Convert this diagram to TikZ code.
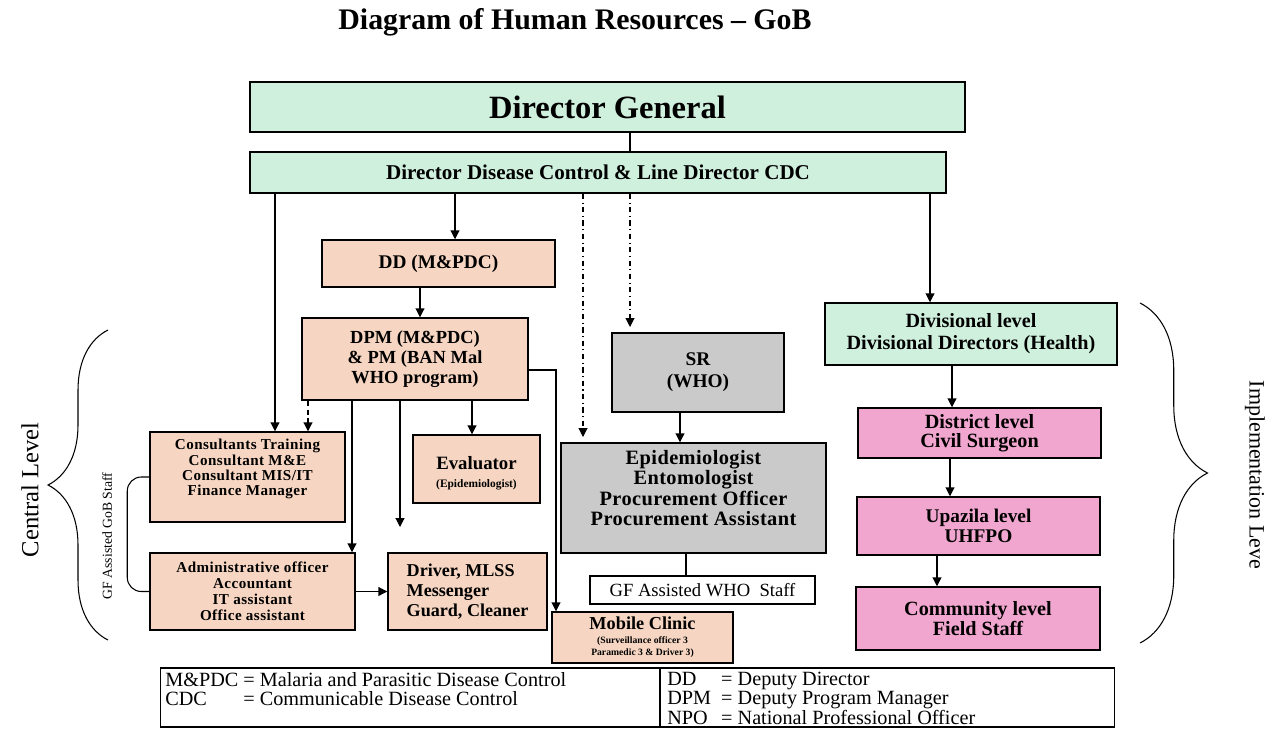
\documentclass[tikz,border=0pt]{standalone}
\usepackage{fontspec}
\setmainfont{Liberation Serif}
\usetikzlibrary{arrows.meta,decorations.pathreplacing}
\definecolor{hrgreen}{RGB}{208,240,222}
\definecolor{hrpeach}{RGB}{246,214,194}
\definecolor{hrgrey}{RGB}{202,202,202}
\definecolor{hrpink}{RGB}{240,166,206}
\newcommand{\fsz}[1]{\fontsize{#1}{#1}\selectfont}
\newcommand{\spaced}{\addfontfeature{LetterSpace=3}}
\begin{document}
\begin{tikzpicture}[x=0.02cm,y=-0.02cm]
    \tikzstyle{box}=[draw=black, line width=0.85pt, align=center, inner sep=1pt, font=\bfseries]
    \tikzstyle{greenbox}=[box, fill=hrgreen]
    \tikzstyle{peachbox}=[box, fill=hrpeach]
    \tikzstyle{greybox}=[box, fill=hrgrey]
    \tikzstyle{pinkbox}=[box, fill=hrpink]
    \tikzstyle{arr}=[-{Triangle[length=5pt,width=5pt]}, line width=0.6pt]
    \tikzstyle{dasharr}=[arr, dash dot, shorten >=3pt]
    \tikzstyle{brc}=[decorate, line width=0.6pt]
    \fill[white] (0,0) rectangle (1280,730);
    \useasboundingbox (0,0) rectangle (1280,730);
    \node (title) at (575,22) {\bfseries\fsz{17}Diagram of Human Resources -- GoB};
    % top level
    \node[greenbox, minimum width=14.3cm, minimum height=1.0cm, font=\bfseries\fsz{18.5}] (dg) at (607.5,107) {Director General};
    \node[greenbox, minimum width=13.92cm, minimum height=0.82cm, font=\bfseries\fsz{12}] (ddc) at (598,172.5) {Director Disease Control \& Line Director CDC};
    % central level
    \node[peachbox, minimum width=4.66cm, minimum height=0.94cm, font=\bfseries\fsz{11}] (dd) at (438.5,263.5) {DD (M\&PDC)};
    \node[peachbox, minimum width=4.52cm, minimum height=1.64cm, font=\bfseries\fontsize{10.5}{11.5}\selectfont] (dpm) at (415,359) {DPM (M\&PDC)\\\& PM (BAN Mal\\WHO program)};
    \node[peachbox, minimum width=3.9cm, minimum height=1.8cm, font=\bfseries\fontsize{8.6}{8.8}\selectfont\spaced] (cons) at (247.5,477) {Consultants Training\\Consultant M\&E\\Consultant MIS/IT\\Finance Manager\\[2pt]\mbox{}};
    \node[peachbox, minimum width=2.54cm, minimum height=1.36cm, font=\bfseries\fontsize{10.7}{10.5}\selectfont] (eval) at (476.5,469) {\mbox{}\\[2pt]Evaluator\\{\fsz{6.5}(Epidemiologist)}};
    \node[peachbox, minimum width=4.1cm, minimum height=1.54cm, font=\bfseries\fontsize{8.6}{9.1}\selectfont\spaced] (admin) at (252.5,591.5) {Administrative officer\\Accountant\\IT assistant\\Office assistant};
    \node[peachbox, minimum width=3.18cm, minimum height=1.54cm, font=\bfseries\fontsize{10.3}{11.5}\selectfont, align=left] (driver) at (467.5,591.5) {Driver, MLSS\\Messenger\\Guard, Cleaner};
    \node[peachbox, minimum width=3.62cm, minimum height=1.02cm, font=\bfseries\fontsize{10.4}{7}\selectfont] (mobile) at (642.5,637.5) {Mobile Clinic\\[1pt]{\fsz{5.5}(Surveillance officer 3}\\{\fsz{5.5}Paramedic 3 \& Driver 3)}};
    % WHO
    \node[greybox, minimum width=3.44cm, minimum height=1.58cm, font=\bfseries\fontsize{11}{12.5}\selectfont] (sr) at (698,372.5) {SR\\(WHO)};
    \node[greybox, minimum width=5.3cm, minimum height=2.2cm, font=\bfseries\fontsize{11.6}{11.6}\selectfont\addfontfeature{LetterSpace=2}] (epi) at (693.5,498) {Epidemiologist\\Entomologist\\Procurement Officer\\Procurement Assistant\\\mbox{}};
    \node[box, fill=white, minimum width=4.5cm, minimum height=0.56cm, font=\fsz{10.6}] (gfwho) at (702.5,590) {GF Assisted WHO\ \ Staff};
    % implementation level
    \node[greenbox, minimum width=5.84cm, minimum height=1.24cm, font=\bfseries\fontsize{11.5}{12.5}\selectfont] (div) at (971,334) {Divisional level\\Divisional Directors (Health)};
    \node[pinkbox, minimum width=4.86cm, minimum height=1.0cm, font=\bfseries\fontsize{11.5}{11}\selectfont] (dist) at (979.5,433) {District level\\Civil Surgeon};
    \node[pinkbox, minimum width=4.86cm, minimum height=1.16cm, font=\bfseries\fontsize{11}{11}\selectfont] (upz) at (978.5,526) {Upazila level\\UHFPO};
    \node[pinkbox, minimum width=4.88cm, minimum height=1.26cm, font=\bfseries\fontsize{11.5}{11}\selectfont] (comm) at (978,618.5) {Community level\\Field Staff};
    % column positions of the connectors
    \coordinate (c1) at (275,0);
    \coordinate (c2) at (455,0);
    \coordinate (c3) at (583,0);
    \coordinate (c4) at (630,0);
    \coordinate (c5) at (930,0);
    \coordinate (p1) at (420,0);
    \coordinate (p2) at (308,0);
    \coordinate (p3) at (352,0);
    \coordinate (p4) at (400,527);
    \coordinate (p5) at (472,0);
    \coordinate (mobcol) at (556,370);
    \draw[line width=0.6pt] (dg.south -| c4) -- (ddc.north -| c4);
    \draw[arr] (ddc.south -| c1) -- (cons.north -| c1);
    \draw[arr] (ddc.south -| c2) -- (dd.north -| c2);
    \draw[dasharr] (ddc.south -| c3) -- (epi.north -| c3);
    \draw[dasharr] (ddc.south -| c4) -- (sr.north -| c4);
    \draw[arr] (ddc.south -| c5) -- (div.north -| c5);
    \draw[arr] (dd.south -| p1) -- (dpm.north -| p1);
    \draw[arr, densely dashed] (dpm.south -| p2) -- (cons.north -| p2);
    \draw[arr] (dpm.south -| p3) -- (admin.north -| p3);
    \draw[arr] (dpm.south -| p4) -- (p4);
    \draw[arr] (dpm.south -| p5) -- (eval.north -| p5);
    \draw[arr] (dpm.east |- mobcol) -| (mobile.north -| mobcol);
    \draw[arr] (admin.east) -- (driver.west);
    \draw[rounded corners=8, line width=0.6pt] (cons.west) -- ++(-22,0) |- (admin.west);
    \draw[arr] (sr.south -| 680,0) -- (epi.north -| 680,0);
    \draw[line width=0.6pt] (epi.south -| 686,0) -- (gfwho.north -| 686,0);
    \draw[arr] (div.south -| 952,0) -- (dist.north -| 952,0);
    \draw[arr] (dist.south -| 950,0) -- (upz.north -| 950,0);
    \draw[arr] (upz.south -| 937,0) -- (comm.north -| 937,0);
    % braces and level labels
    \draw[brc, decoration={brace, amplitude=1.2cm}] (108,640) -- (108,330);
    \draw[brc, decoration={brace, amplitude=1.35cm}] (1140,303) -- (1140,643);
    \node[rotate=90, font=\fsz{14}] (central) at (30,490) {Central Level};
    \node[rotate=90, font=\fsz{7.8}] (gfgob) at (107,536) {GF Assisted GoB Staff};
    \node[rotate=-90, font=\fsz{12.5}] (impl) at (1255,475) {Implementation Leve};
    % legend
    \node[draw=black, line width=0.6pt, minimum width=19.1cm, minimum height=1.18cm, inner sep=0pt] (legend) at (637.5,697.5) {};
    \draw[line width=0.6pt] (legend.north -| 660,0) -- (legend.south -| 660,0);
    \node[anchor=north west, inner sep=0pt, font=\fontsize{11.5}{10.3}\selectfont] (legl) at (165,672) {\begin{tabular}{@{}l@{ }l@{}}M\&PDC & = Malaria and Parasitic Disease Control\\CDC & = Communicable Disease Control\end{tabular}};
    \node[anchor=north west, inner sep=0pt, font=\fontsize{11.5}{10.3}\selectfont] (legr) at (667,672) {\begin{tabular}{@{}l@{\ \ }l@{}}DD & = Deputy Director\\DPM & = Deputy Program Manager\\NPO & = National Professional Officer\end{tabular}};
\end{tikzpicture}
\end{document}
